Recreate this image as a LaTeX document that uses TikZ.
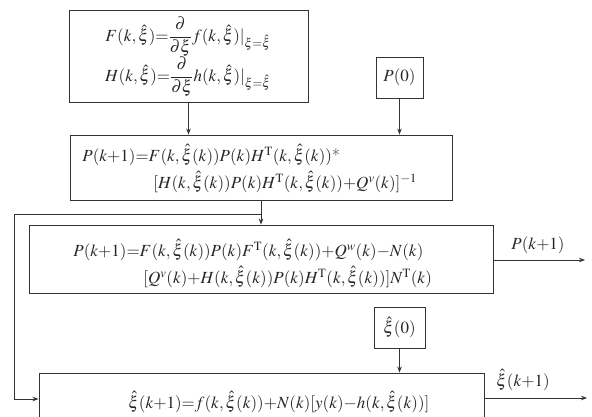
\documentclass[tikz,border=0pt]{standalone}
\usepackage{mathptmx}
\usetikzlibrary{arrows.meta}
\begin{document}
\begin{tikzpicture}[x=1pt,y=-1pt,
  line width=0.8pt,
  box/.style={draw=black!80,line width=0.9pt,rectangle,inner sep=0pt,minimum width=#1},
  eq/.style={inner sep=0pt,font=\fontsize{17}{20}\selectfont,text=black!85},
  arr/.style={draw=black!80,-{Stealth[length=6pt,width=4.5pt]}}]
\useasboundingbox (0,0) rectangle (592,417);
\clip (0,0) rectangle (592,417);
\thickmuskip=1mu \medmuskip=0.5mu
% boxes
\node[box=239pt,minimum height=92pt] (b1) at (188.5,56) {};
\node[box=47pt,minimum height=41pt] (p0) at (399.5,77.5) {};
\node[box=382pt,minimum height=65pt] (b2) at (261,167.5) {};
\node[box=464pt,minimum height=68pt] (b3) at (261,259) {};
\node[box=51pt,minimum height=41pt] (x0) at (399.5,327.5) {};
\node[box=445pt,minimum height=52pt] (b4) at (261.5,399) {};
% texts
\node[eq] (t11) at (188,37) {$F(k,\hat\xi){=}{\displaystyle\frac{\partial}{\partial\xi}}f(k,\hat\xi)|_{\xi=\hat\xi}$};
\node[eq] (t12) at (188,77) {$H(k,\hat\xi){=}{\displaystyle\frac{\partial}{\partial\xi}}h(k,\hat\xi)|_{\xi=\hat\xi}$};
\node[eq] at (p0.center) {$P(0)$};
\node[eq,anchor=west] (t21) at (82,155) {$P(k{+}1){=}F(k,\hat\xi(k))P(k)H^{\mathrm{T}}(k,\hat\xi(k))\mbox{*}$};
\node[eq,anchor=west] (t22) at (153,182) {$[H(k,\hat\xi(k))P(k)H^{\mathrm{T}}(k,\hat\xi(k)){+}Q^{v}(k)]^{-1}$};
\node[eq,anchor=west] (t31) at (73,250) {$P(k{+}1){=}F(k,\hat\xi(k))P(k)F^{\mathrm{T}}(k,\hat\xi(k)){+}Q^{w}(k){-}N(k)$};
\node[eq,anchor=west] (t32) at (143,277) {$[Q^{v}(k){+}H(k,\hat\xi(k))P(k)H^{\mathrm{T}}(k,\hat\xi(k))]N^{\mathrm{T}}(k)$};
\node[eq] at (x0.center) {$\hat\xi(0)$};
\node[eq,anchor=west] (t4) at (128,402) {$\hat\xi(k{+}1){=}f(k,\hat\xi(k)){+}N(k)[y(k){-}h(k,\hat\xi(k))]$};
% output labels and ends
\coordinate (o1) at (585,260);
\coordinate (o2) at (587,398);
\node[eq] (l1) at (538,245) {$P(k{+}1)$};
\node[eq] (l2) at (523,380) {$\hat\xi(k{+}1)$};
% connectors
\draw[arr] (b1.south) -- (b1.south |- b2.north);
\draw[arr] (p0.south) -- (p0.south |- b2.north);
\draw[arr] (b2.south) -- (b2.south |- b3.north);
\coordinate (fb) at (261,214);
\draw[arr] (fb) -- (14,214) -- (14,399) -- (b4.west);
\draw[arr] (b3.east |- o1) -- (o1);
\draw[arr] (x0.south) -- (x0.south |- b4.north);
\draw[arr] (b4.east |- o2) -- (o2);
\end{tikzpicture}
\end{document}
